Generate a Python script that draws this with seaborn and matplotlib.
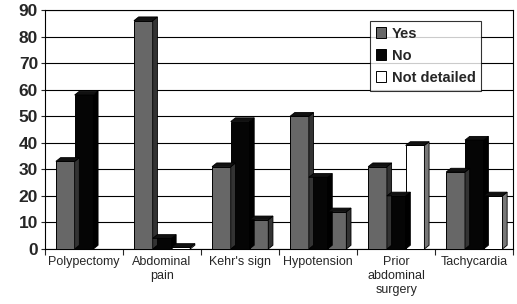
import numpy as np
import pandas as pd
import matplotlib.pyplot as plt
import seaborn as sns
from matplotlib.patches import Polygon

# data
categories = ["Polypectomy", "Abdominal\npain", "Kehr's sign", "Hypotension",
              "Prior\nabdominal\nsurgery", "Tachycardia"]
yes = [33, 86, 31, 50, 31, 29]
no = [58, 4, 48, 27, 20, 41]
not_detailed = [0, 0.6, 11, 14, 39, 20]
groups = ["Yes", "No", "Not detailed"]
colors = {"Yes": "#676767", "No": "#050505", "Not detailed": "#ffffff"}

df = pd.DataFrame({"Category": categories * 3,
                   "Response": [g for g in groups for _ in categories],
                   "Value": yes + no + not_detailed})

sns.set_style("white")
plt.rcParams['font.family'] = ['Liberation Sans', 'DejaVu Sans']
fig = plt.figure(figsize=(5.17, 3.04), dpi=100)
ax = fig.add_axes([0.087, 0.181, 0.906, 0.786])

sns.barplot(data=df, x="Category", y="Value", hue="Response", palette=colors,
            hue_order=groups, width=0.72, edgecolor="black", linewidth=0.7,
            ax=ax, zorder=3)

# the reference draws these two "not detailed" bars in gray
bars = ax.patches[:len(categories) * 3]
for i in [2, 3]:
    bars[2 * len(categories) + i].set_facecolor("#676767")

# fake 3D depth from the bar geometry
dx, dy = 0.06, 1.4
side = {"#676767": "#333333", "#050505": "#000000", "#ffffff": "#777777"}
for p in bars:
    x, w, h = p.get_x(), p.get_width(), p.get_height()
    if h <= 0:
        continue
    fc = p.get_facecolor()
    key = "#%02x%02x%02x" % tuple(int(round(c * 255)) for c in fc[:3])
    sc = side.get(key, "#333333")
    ax.add_patch(Polygon([(x + w, 0), (x + w + dx, dy), (x + w + dx, h + dy), (x + w, h)],
                         closed=True, facecolor=sc, edgecolor="black", lw=0.6, zorder=3))
    ax.add_patch(Polygon([(x, h), (x + dx, h + dy), (x + w + dx, h + dy), (x + w, h)],
                         closed=True, facecolor="#111111", edgecolor="black", lw=0.6, zorder=3))

ax.set_ylim(0, 90)
ax.set_xlim(-0.5, len(categories) - 0.5)
ax.set_yticks(range(0, 91, 10))
ax.yaxis.grid(True, color="black", lw=0.8, zorder=0)
ax.set_xlabel("")
ax.set_ylabel("")
for s in ax.spines.values():
    s.set_color("black")
    s.set_linewidth(0.8)
ax.tick_params(axis="y", labelsize=12.5, length=3, width=0.8, pad=2, left=True)
for t in ax.get_yticklabels():
    t.set_fontweight("bold")
ax.tick_params(axis="x", labelsize=9, length=0, pad=5)
ax.set_xticks(np.arange(-0.5, len(categories)), minor=True)
ax.tick_params(axis="x", which="minor", length=4, width=0.8, bottom=True)

leg = ax.legend(loc="upper right", bbox_to_anchor=(0.947, 0.985), frameon=True,
                fancybox=False, edgecolor="black", handlelength=0.75, handleheight=0.75,
                handletextpad=0.35, labelspacing=0.55, borderpad=0.4,
                prop={"weight": "bold", "size": 10.5})
leg.get_frame().set_linewidth(0.8)
for h in leg.legend_handles:
    h.set_edgecolor("black")

fig.savefig("out.png", dpi=100)
